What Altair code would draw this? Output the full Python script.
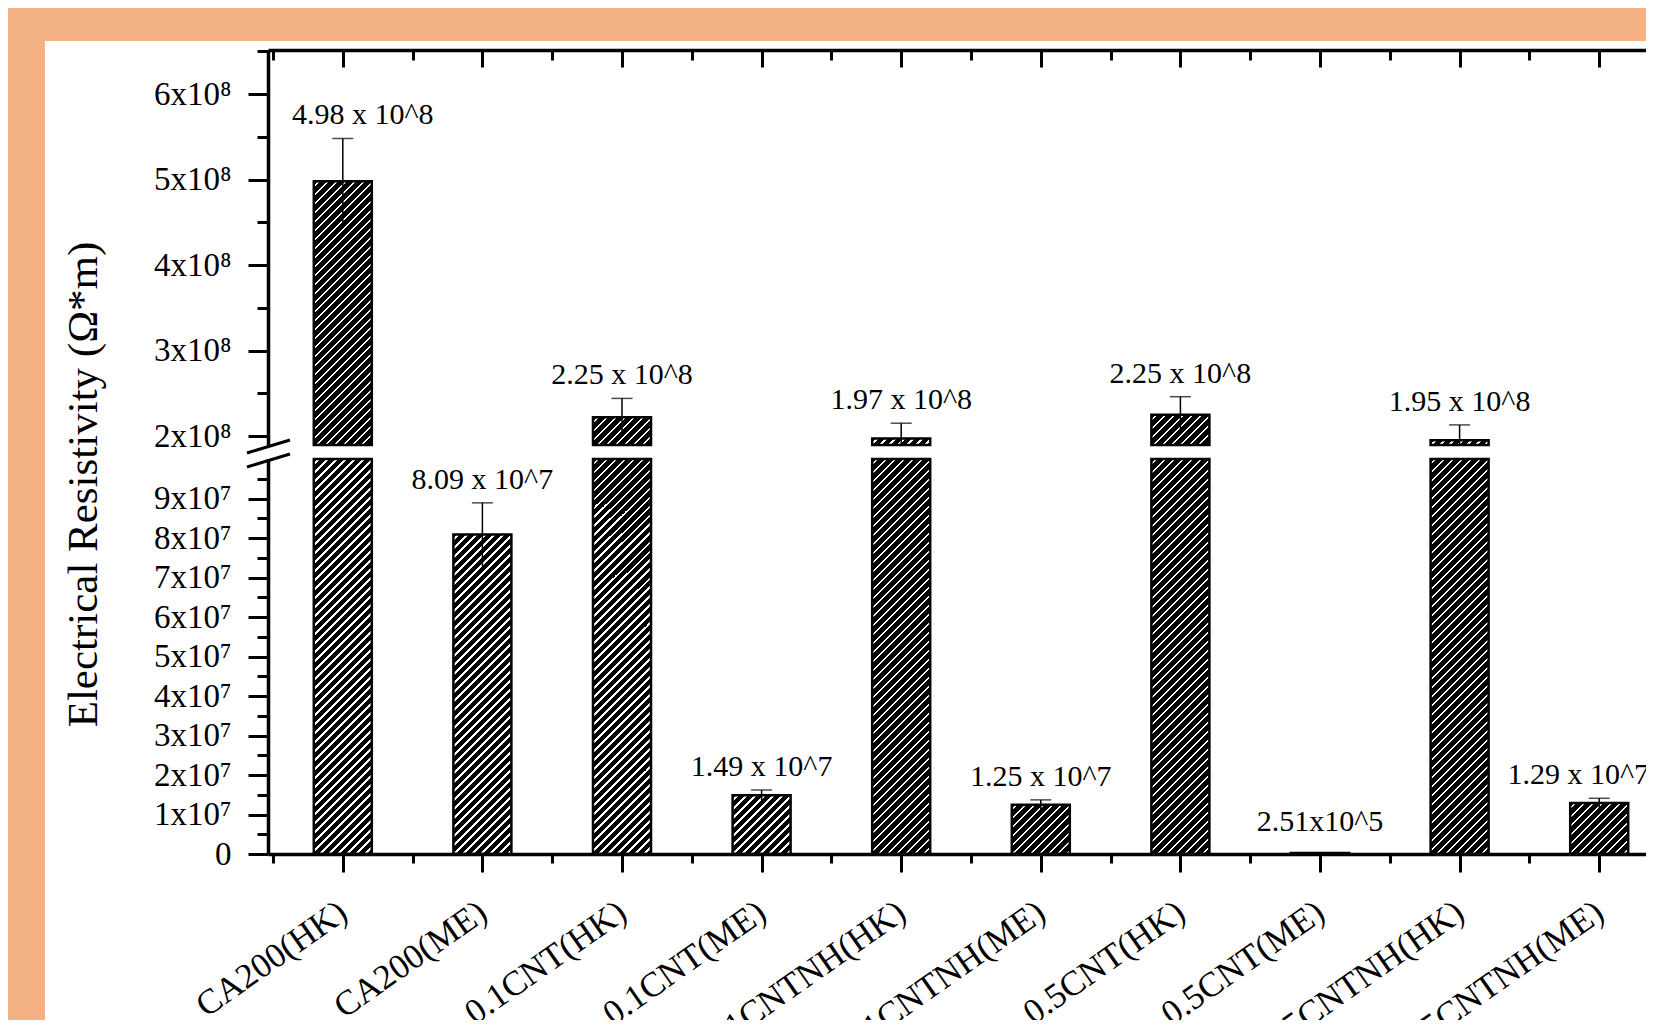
import json
import altair as alt

# ---------------- data ----------------
categories = ["CA200(HK)", "CA200(ME)", "0.1CNT(HK)", "0.1CNT(ME)", "0.1CNTNH(HK)",
              "0.1CNTNH(ME)", "0.5CNT(HK)", "0.5CNT(ME)", "0.5CNTNH(HK)", "0.5CNTNH(ME)"]
values = [4.98e8, 8.09e7, 2.22e8, 1.49e7, 1.97e8, 1.25e7, 2.25e8, 2.51e5, 1.95e8, 1.29e7]
errors = [0.50e8, 0.80e7, 0.22e8, 0.13e7, 0.18e8, 0.12e7, 0.21e8, 0.0, 0.18e8, 0.12e7]
value_labels = ["4.98 x 10^8", "8.09 x 10^7", "2.25 x 10^8", "1.49 x 10^7", "1.97 x 10^8",
                "1.25 x 10^7", "2.25 x 10^8", "2.51x10^5", "1.95 x 10^8", "1.29 x 10^7"]

upper_ticks = [2.0e8, 2.5e8, 3.0e8, 3.5e8, 4.0e8, 4.5e8, 5.0e8, 5.5e8, 6.0e8, 6.5e8]
lower_ticks = [0, 5e6, 1e7, 1.5e7, 2e7, 2.5e7, 3e7, 3.5e7, 4e7, 4.5e7, 5e7,
               5.5e7, 6e7, 6.5e7, 7e7, 7.5e7, 8e7, 8.5e7, 9e7, 9.5e7]
x_ticks = [-0.5, 0, 0.5, 1, 1.5, 2, 2.5, 3, 3.5, 4, 4.5, 5, 5.5, 6, 6.5, 7, 7.5, 8, 8.5, 9, 9.5]

y_title = "Electrical Resistivity (Ω*m)"

# ---------------- layout / style ----------------
FONT = "Liberation Serif"
W_VIEW = 1378
X_RANGE = 1406
H_SEG = 395
H_VIEW = 804
UP_DOMAIN = [1.895e8, 6.515e8]
LO_DOMAIN = [0, 1e8]
BAR_W = 58
ORANGE = "#F4B183"


def hatch(h):
    """White '/' hatching on black, in the bar's bounding-box units."""
    W = float(BAR_W)
    H = max(float(h), 0.5)
    L = W + H
    c = L / (W * W + H * H)
    stops = [{"offset": 0, "color": "#000000"}]
    pos = 4.0
    while pos < L:
        a = pos / L
        b = min((pos + 2.4) / L, 1.0)
        stops += [{"offset": a, "color": "#000000"}, {"offset": a, "color": "#ffffff"},
                  {"offset": b, "color": "#ffffff"}, {"offset": b, "color": "#000000"}]
        pos += 9.0
    stops.append({"offset": 1, "color": "#000000"})
    return {"gradient": "linear", "x1": 0, "y1": 0, "x2": W * c, "y2": H * c, "stops": stops}


rows = []
for i, (c, v, e, lab) in enumerate(zip(categories, values, errors, value_labels)):
    hu = (min(v, UP_DOMAIN[1]) - UP_DOMAIN[0]) / (UP_DOMAIN[1] - UP_DOMAIN[0]) * H_SEG if v > UP_DOMAIN[0] else 0
    hl = min(v, LO_DOMAIN[1]) / LO_DOMAIN[1] * H_SEG
    rows.append({"idx": i, "cat": c, "v": v, "lo_e": v - e, "hi_e": v + e, "lab": lab,
                 "gu": hatch(hu), "gl": hatch(hl)})

data = alt.Data(values=rows)
base = alt.Chart(data)

x_scale = alt.Scale(domain=[-0.5, 9.5], range=[0, X_RANGE], nice=False, zero=False)
names_js = json.dumps(categories)

common_axis = dict(tickColor="black", tickWidth=3, domainColor="black", domainWidth=3.5,
                   grid=False, zindex=1, labelOverlap=False, labelFlush=False)

x_bottom_axis = alt.Axis(
    orient="bottom", values=x_ticks, title=None,
    tickSize={"condition": {"test": "datum.value % 1 === 0", "value": 18}, "value": 9},
    labelExpr=f"datum.value % 1 === 0 ? {names_js}[datum.value] : ''",
    labelAngle=-35, labelAlign="right", labelBaseline="middle", labelPadding=36,
    labelLimit=0, labelFont=FONT, labelFontSize=35, labelColor="black", **common_axis)

x_top_axis = alt.Axis(
    orient="bottom", offset=-H_VIEW, values=x_ticks, title=None, labels=False,
    tickSize={"condition": {"test": "datum.value % 1 === 0", "value": 17}, "value": 10},
    **common_axis)

y_up_axis = alt.Axis(
    orient="left", values=upper_ticks, title=None,
    tickSize={"condition": {"test": "datum.value % 1e8 === 0", "value": 20}, "value": 11},
    labelExpr="datum.value % 1e8 === 0 ? format(datum.value / 1e8, 'd') + 'x10⁸' : ''",
    labelPadding=17, labelFont=FONT, labelFontSize=33, labelColor="black", **common_axis)

y_lo_axis = alt.Axis(
    orient="left", values=lower_ticks, title=y_title,
    tickSize={"condition": {"test": "datum.value % 1e7 === 0", "value": 20}, "value": 11},
    labelExpr="datum.value === 0 ? '0' : (datum.value % 1e7 === 0 ? format(datum.value / 1e7, 'd') + 'x10⁷' : '')",
    labelPadding=17, labelFont=FONT, labelFontSize=33, labelColor="black",
    titleFont=FONT, titleFontSize=43, titleFontWeight="normal", titleColor="black",
    titleX=-185, titleY=434, titleAngle=270, titleAlign="center", titleBaseline="middle",
    **common_axis)

y_up_scale = alt.Scale(domain=UP_DOMAIN, range=[H_SEG, 0], clamp=True, nice=False, zero=False)
y_lo_scale = alt.Scale(domain=LO_DOMAIN, range=[H_VIEW, H_VIEW - H_SEG], clamp=True, nice=False, zero=False)

text_style = dict(font=FONT, fontSize=30, baseline="middle", color="black")

# ---------------- upper segment ----------------
xu = alt.X("idx:Q", scale=x_scale, axis=x_top_axis)
up_lo = UP_DOMAIN[0]
bars_u = base.transform_filter(f"datum.v > {up_lo}").mark_bar(
    size=BAR_W, stroke="black", strokeWidth=2.5).encode(
    x=xu, y=alt.Y("v:Q", scale=y_up_scale, axis=y_up_axis), y2=alt.datum(0),
    fill=alt.Fill("gu:N", scale=None))
err_u = base.transform_filter(f"datum.hi_e > {up_lo}").mark_rule(color="black", strokeWidth=1.5).encode(
    x=xu, y=alt.Y("lo_e:Q", scale=y_up_scale, axis=y_up_axis), y2="hi_e:Q")
cap_u = base.transform_filter(f"datum.hi_e > {up_lo}").mark_tick(
    orient="horizontal", size=21, thickness=1.5, color="black").encode(
    x=xu, y=alt.Y("hi_e:Q", scale=y_up_scale, axis=y_up_axis))
txt_u = base.transform_filter(f"datum.v > {up_lo} && datum.idx !== 0").mark_text(dy=-23, **text_style).encode(
    x=xu, y=alt.Y("hi_e:Q", scale=y_up_scale, axis=y_up_axis), text="lab:N")
txt_u0 = base.transform_filter("datum.idx === 0").mark_text(dx=20, dy=-23, **text_style).encode(
    x=xu, y=alt.Y("hi_e:Q", scale=y_up_scale, axis=y_up_axis), text="lab:N")
upper = alt.layer(bars_u, err_u, cap_u, txt_u, txt_u0)

# ---------------- lower segment ----------------
xl = alt.X("idx:Q", scale=x_scale, axis=x_bottom_axis)
lo_hi = LO_DOMAIN[1]
bars_l = base.mark_bar(size=BAR_W, stroke="black", strokeWidth=2.5).encode(
    x=xl, y=alt.Y("v:Q", scale=y_lo_scale, axis=y_lo_axis), y2=alt.datum(0),
    fill=alt.Fill("gl:N", scale=None))
err_l = base.transform_filter(f"datum.lo_e < {lo_hi}").mark_rule(color="black", strokeWidth=1.5).encode(
    x=xl, y=alt.Y("lo_e:Q", scale=y_lo_scale, axis=y_lo_axis), y2="hi_e:Q")
cap_l = base.transform_filter(f"datum.hi_e < {lo_hi} && datum.hi_e > datum.v").mark_tick(
    orient="horizontal", size=21, thickness=1.5, color="black").encode(
    x=xl, y=alt.Y("hi_e:Q", scale=y_lo_scale, axis=y_lo_axis))
txt_l = base.transform_filter(
    f"datum.v < {lo_hi} && datum.idx !== 9 && datum.idx !== 7").mark_text(dy=-23, **text_style).encode(
    x=xl, y=alt.Y("hi_e:Q", scale=y_lo_scale, axis=y_lo_axis), text="lab:N")
txt_l7 = base.transform_filter("datum.idx === 7").mark_text(dy=-31, **text_style).encode(
    x=xl, y=alt.Y("hi_e:Q", scale=y_lo_scale, axis=y_lo_axis), text="lab:N")
txt_l9 = base.transform_filter("datum.idx === 9").mark_text(dx=-21, dy=-23, **text_style).encode(
    x=xl, y=alt.Y("hi_e:Q", scale=y_lo_scale, axis=y_lo_axis), text="lab:N")
lower = alt.layer(bars_l, err_l, cap_l, txt_l, txt_l7, txt_l9)

# ---------------- decorations: white panel and axis-break marks ----------------
one = alt.Data(values=[{"k": 0}])
panel = alt.Chart(one).mark_rect(color="white").encode(
    x=alt.value(-223), x2=alt.value(1500), y=alt.value(-9), y2=alt.value(1100))
slash1 = alt.Chart(one).mark_rule(color="black", strokeWidth=3).encode(
    x=alt.value(-21), x2=alt.value(22), y=alt.value(403), y2=alt.value(390))
slash2 = alt.Chart(one).mark_rule(color="black", strokeWidth=3).encode(
    x=alt.value(-21), x2=alt.value(22), y=alt.value(417), y2=alt.value(404))

chart = alt.layer(panel, upper, lower, slash1, slash2).resolve_scale(
    y="independent").resolve_axis(x="independent", y="independent").properties(
    width=W_VIEW, height=H_VIEW,
    padding={"left": 260, "top": 42, "right": 0, "bottom": 166},
    autosize=alt.AutoSizeParams(type="none"),
    background=ORANGE,
).configure_view(strokeWidth=0)

chart.save("out.html", embed_options={"renderer": "svg", "actions": False})
